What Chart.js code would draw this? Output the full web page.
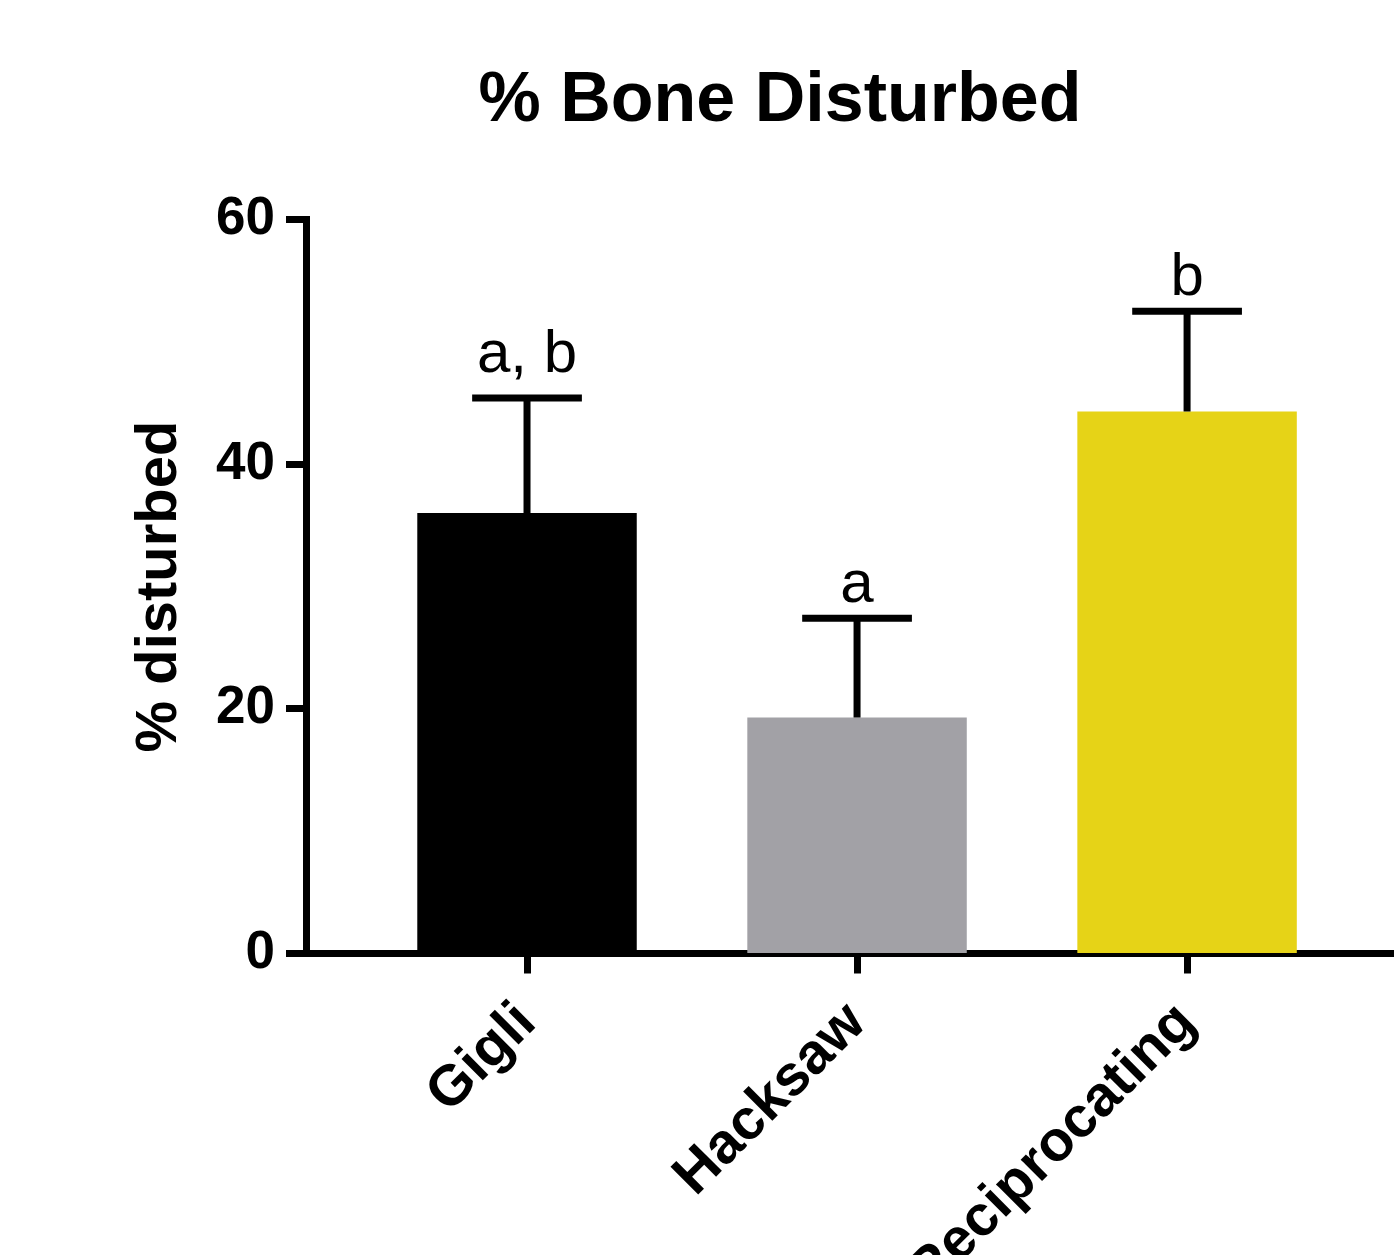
<!DOCTYPE html>
<html>
<head>
<meta charset="utf-8">
<script src="https://cdn.jsdelivr.net/npm/chart.js@4.4.1/dist/chart.umd.min.js"></script>
<style>
  html, body { margin: 0; padding: 0; background: #fff; }
</style>
</head>
<body>
<canvas id="boneChart" width="1394" height="1255"></canvas>
<script>
// 데이터
const categories = ['Gigli', 'Hacksaw', 'Reciprocating'];
const means = [36.0, 19.3, 44.3];
const upperErrors = [9.4, 8.1, 8.2];
const sigLetters = ['a, b', 'a', 'b'];
const yTicks = [0, 20, 40, 60];
const barColors = ['#000000', '#a2a1a6', '#e6d317'];

const chartTitle = '% Bone Disturbed';
const FONT = '"Liberation Sans", Arial, Helvetica, sans-serif';

// 에러바 + 유의성 문자
const errorBarPlugin = {
    id: 'errorBars',
    afterDatasetsDraw(chart) {
        const { ctx, scales: { y } } = chart;
        const meta = chart.getDatasetMeta(0);
        ctx.save();
        ctx.strokeStyle = '#000';
        ctx.lineWidth = 7;
        ctx.fillStyle = '#000';
        ctx.font = `60px ${FONT}`;
        ctx.textAlign = 'center';
        ctx.textBaseline = 'alphabetic';
        meta.data.forEach((bar, i) => {
            const top = y.getPixelForValue(means[i] + upperErrors[i]);
            const half = bar.width / 4;
            ctx.beginPath();
            ctx.moveTo(bar.x, bar.y);
            ctx.lineTo(bar.x, top);
            ctx.moveTo(bar.x - half, top);
            ctx.lineTo(bar.x + half, top);
            ctx.stroke();
            // 두 글자 라벨은 원본처럼 조금 더 위에
            const gap = sigLetters[i].length > 1 ? 26 : 16;
            ctx.fillText(sigLetters[i], bar.x, top - gap);
        });
        ctx.restore();
    }
};

// 상단 제목 + 축 모서리 메우기
const titlePlugin = {
    id: 'topTitle',
    afterDraw(chart) {
        const { ctx, chartArea } = chart;
        ctx.save();
        ctx.fillStyle = '#000';
        ctx.fillRect(chartArea.left - 3.5, chartArea.bottom - 3.5, 7, 7);
        ctx.font = `bold 70px ${FONT}`;
        ctx.textAlign = 'center';
        ctx.textBaseline = 'alphabetic';
        ctx.fillText(chartTitle, 780, 121);
        ctx.restore();
    }
};

const axisGrid = {
    display: true,
    offset: false,
    drawOnChartArea: false,
    drawTicks: true,
    tickLength: 20,
    tickWidth: 7,
    tickColor: '#000'
};

new Chart(document.getElementById('boneChart'), {
    type: 'bar',
    data: {
        datasets: [{
            data: means.map((m, i) => ({ x: i + 1, y: m })),
            backgroundColor: barColors,
            borderWidth: 0,
            barPercentage: 0.665,
            categoryPercentage: 1
        }]
    },
    options: {
        responsive: false,
        animation: false,
        layout: { padding: { top: 219.5, left: 0, right: 0, bottom: 0 } },
        plugins: { legend: { display: false }, tooltip: { enabled: false } },
        scales: {
            x: {
                type: 'linear',
                offset: false,
                min: 0.3303,
                max: 3.627,
                afterBuildTicks: (s) => { s.ticks = categories.map((c, i) => ({ value: i + 1 })); },
                afterFit: (s) => { s.height = 301.5; },
                grid: axisGrid,
                border: { display: true, width: 7, color: '#000' },
                ticks: {
                    autoSkip: false,
                    minRotation: 45,
                    maxRotation: 45,
                    padding: 16,
                    color: '#000',
                    font: { family: FONT, size: 57, weight: 'bold' },
                    callback: (v) => categories[v - 1] || ''
                }
            },
            y: {
                min: 0,
                max: 60,
                afterBuildTicks: (s) => { s.ticks = yTicks.map(v => ({ value: v })); },
                afterFit: (s) => { s.width = 306; },
                grid: axisGrid,
                border: { display: true, width: 7, color: '#000' },
                ticks: {
                    padding: 11,
                    color: '#000',
                    font: { family: FONT, size: 53, weight: 'bold' }
                },
                title: {
                    display: true,
                    text: '% disturbed',
                    color: '#000',
                    font: { family: FONT, size: 58, weight: 'bold' },
                    padding: { top: 125, bottom: 0 }
                }
            }
        }
    },
    plugins: [errorBarPlugin, titlePlugin]
});
</script>
</body>
</html>
